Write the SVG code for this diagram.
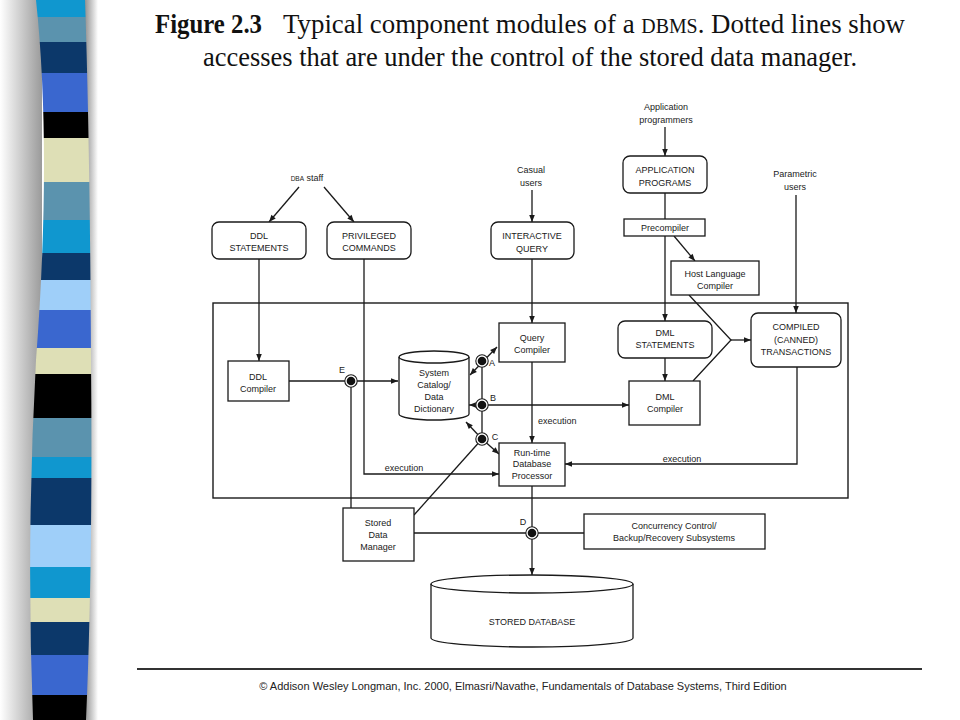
<svg xmlns="http://www.w3.org/2000/svg" xmlns:xlink="http://www.w3.org/1999/xlink" width="960" height="720" viewBox="0 0 960 720">
<defs>
<style>
.bx{fill:#fff;stroke:#1a1a1a;stroke-width:1.3}
.ln{fill:none;stroke:#1a1a1a;stroke-width:1.3}
.ar{marker-end:url(#ah)}
.da{marker-start:url(#ah);marker-end:url(#ah)}
.t{font-family:"Liberation Sans",Arial,sans-serif;font-size:9px;fill:#1a1a1a;text-anchor:middle}
.ts{font-family:"Liberation Sans",Arial,sans-serif;font-size:9px;fill:#1a1a1a}
.ttl{font-family:"Liberation Serif","Times New Roman",serif;font-size:27px;fill:#111}
</style>
<marker id="ah" viewBox="0 0 10 10" refX="10" refY="5" markerWidth="9" markerHeight="7" markerUnits="userSpaceOnUse" orient="auto-start-reverse">
<path d="M0,1 L10,5 L0,9 Z" fill="#1a1a1a"/>
</marker>
<g id="dot"><circle r="6.2" fill="#fff" stroke="#1a1a1a" stroke-width="1.1"/><circle r="4.3" fill="#111"/></g>
<linearGradient id="lg" x1="0" y1="0" x2="1" y2="0"><stop offset="0" stop-color="#fff"/><stop offset="1" stop-color="#9a9a9a"/></linearGradient>
<linearGradient id="rg" x1="0" y1="0" x2="1" y2="0"><stop offset="0" stop-color="#8a8a8a"/><stop offset="1" stop-color="#fff"/></linearGradient>
<clipPath id="bar"><path d="M36,0 Q52,150 36,360 Q26,540 33,720 L86,720 Q93,560 91,360 Q90,150 85,0 Z"/></clipPath>
</defs>
<rect width="960" height="720" fill="#fff"/>
<g id="side-bar">
<rect x="0" y="0" width="42" height="720" fill="url(#lg)"/>
<rect x="84" y="0" width="14" height="720" fill="url(#rg)"/>
<g clip-path="url(#bar)">
<rect x="20" y="0" width="80" height="17" fill="#1097cf"/>
<rect x="20" y="17" width="80" height="25" fill="#5b93ae"/>
<rect x="20" y="42" width="80" height="31" fill="#0c386a"/>
<rect x="20" y="73" width="80" height="39" fill="#3a67cf"/>
<rect x="20" y="112" width="80" height="26" fill="#000"/>
<rect x="20" y="138" width="80" height="44" fill="#dedfb6"/>
<rect x="20" y="182" width="80" height="38" fill="#5b93ae"/>
<rect x="20" y="220" width="80" height="33" fill="#1097cf"/>
<rect x="20" y="253" width="80" height="27" fill="#0c386a"/>
<rect x="20" y="280" width="80" height="30" fill="#9fcff9"/>
<rect x="20" y="310" width="80" height="38" fill="#3a67cf"/>
<rect x="20" y="348" width="80" height="26" fill="#dedfb6"/>
<rect x="20" y="374" width="80" height="44" fill="#000"/>
<rect x="20" y="418" width="80" height="39" fill="#5b93ae"/>
<rect x="20" y="457" width="80" height="21" fill="#1097cf"/>
<rect x="20" y="478" width="80" height="47" fill="#0c386a"/>
<rect x="20" y="525" width="80" height="42" fill="#9fcff9"/>
<rect x="20" y="567" width="80" height="31" fill="#1097cf"/>
<rect x="20" y="598" width="80" height="24" fill="#dedfb6"/>
<rect x="20" y="622" width="80" height="33" fill="#0c386a"/>
<rect x="20" y="655" width="80" height="40" fill="#3a67cf"/>
<rect x="20" y="695" width="80" height="25" fill="#000"/>
</g>
</g>
<g id="title">
<text class="ttl" x="155" y="33" font-weight="bold" textLength="107" lengthAdjust="spacingAndGlyphs">Figure 2.3</text>
<text class="ttl" x="283" y="33" textLength="622" lengthAdjust="spacingAndGlyphs">Typical component modules of a <tspan font-size="20">DBMS</tspan>. Dotted lines show</text>
<text class="ttl" x="203" y="66" textLength="654" lengthAdjust="spacingAndGlyphs">accesses that are under the control of the stored data manager.</text>
</g>
<g id="system-boundary"><rect x="213" y="303" width="635" height="195" fill="none" stroke="#1a1a1a" stroke-width="1.4"/></g>
<g id="connectors">
<path class="ln ar" d="M299,187 L269,222"/>
<path class="ln ar" d="M324,187 L354,222"/>
<path class="ln ar" d="M259,259 V361"/>
<path class="ln ar" d="M364,259 V474 H499"/>
<path class="ln ar" d="M289,381 H398"/>
<path class="ln" d="M351,381 V508"/>
<path class="ln ar" d="M532,190 V222"/>
<path class="ln ar" d="M532,259 V323"/>
<path class="ln ar" d="M532,362 V443"/>
<path class="ln ar" d="M665,127 V156"/>
<path class="ln" d="M665,193 V219"/>
<path class="ln ar" d="M665,236 V321"/>
<path class="ln ar" d="M674,236 L695,261"/>
<path class="ln" d="M689,295 L731,340 L693,381"/>
<path class="ln ar" d="M731,340 H751"/>
<path class="ln ar" d="M665,358 V381"/>
<path class="ln ar" d="M796,195 V313"/>
<path class="ln ar" d="M797,367 V464 H565"/>
<path class="ln" d="M482,361 V439"/>
<path class="ln da" d="M470,375 L497,347"/>
<path class="ln ar" d="M482,405 H469"/>
<path class="ln ar" d="M482,405 H629"/>
<path class="ln ar" d="M482,439 L466,422"/>
<path class="ln ar" d="M482,439 L499,454"/>
<path class="ln" d="M414,515 L482,439"/>
<path class="ln ar" d="M532,486 V575"/>
<path class="ln" d="M414,533 H584"/>
<use xlink:href="#dot" href="#dot" x="351" y="381"/>
<use xlink:href="#dot" href="#dot" x="482" y="361"/>
<use xlink:href="#dot" href="#dot" x="482" y="405"/>
<use xlink:href="#dot" href="#dot" x="482" y="439"/>
<use xlink:href="#dot" href="#dot" x="532" y="533"/>
<text class="t" x="342" y="373">E</text>
<text class="t" x="492" y="366">A</text>
<text class="t" x="493" y="401">B</text>
<text class="t" x="495" y="440">C</text>
<text class="t" x="523" y="525">D</text>
<text class="t" x="404" y="471">execution</text>
<text class="ts" x="538" y="424">execution</text>
<text class="t" x="682" y="462">execution</text>
</g>
<g id="dba-staff"><text class="t" x="307" y="181"><tspan font-size="6.5">DBA</tspan> staff</text></g>
<g id="casual-users"><text class="t" x="531" y="173">Casual</text><text class="t" x="531" y="186">users</text></g>
<g id="application-programmers"><text class="t" x="666" y="110">Application</text><text class="t" x="666" y="123">programmers</text></g>
<g id="parametric-users"><text class="t" x="795" y="177">Parametric</text><text class="t" x="795" y="190">users</text></g>
<g id="ddl-statements"><rect class="bx" x="212" y="222" width="94" height="37" rx="7"/><text class="t" x="259" y="239">DDL</text><text class="t" x="259" y="251">STATEMENTS</text></g>
<g id="privileged-commands"><rect class="bx" x="327" y="222" width="84" height="37" rx="7"/><text class="t" x="369" y="239">PRIVILEGED</text><text class="t" x="369" y="251">COMMANDS</text></g>
<g id="interactive-query"><rect class="bx" x="491" y="222" width="83" height="37" rx="7"/><text class="t" x="532" y="239">INTERACTIVE</text><text class="t" x="532" y="252">QUERY</text></g>
<g id="application-programs"><rect class="bx" x="623" y="156" width="84" height="37" rx="7"/><text class="t" x="665" y="173">APPLICATION</text><text class="t" x="665" y="186">PROGRAMS</text></g>
<g id="precompiler"><rect class="bx" x="624" y="219" width="81" height="17"/><text class="t" x="665" y="231">Precompiler</text></g>
<g id="host-language-compiler"><rect class="bx" x="671" y="261" width="88" height="34"/><text class="t" x="715" y="277">Host Language</text><text class="t" x="715" y="289">Compiler</text></g>
<g id="ddl-compiler"><rect class="bx" x="228" y="361" width="61" height="40"/><text class="t" x="258" y="380">DDL</text><text class="t" x="258" y="392">Compiler</text></g>
<g id="system-catalog">
<path class="bx" d="M399,357 A35,6 0 0 1 469,357 V414 A35,6 0 0 1 399,414 Z"/>
<path class="ln" d="M399,357 A35,6 0 0 0 469,357"/>
<text class="t" x="434" y="376">System</text><text class="t" x="434" y="388">Catalog/</text><text class="t" x="434" y="400">Data</text><text class="t" x="434" y="412">Dictionary</text>
</g>
<g id="query-compiler"><rect class="bx" x="499" y="323" width="66" height="39"/><text class="t" x="532" y="341">Query</text><text class="t" x="532" y="353">Compiler</text></g>
<g id="dml-statements"><rect class="bx" x="618" y="321" width="94" height="37" rx="7"/><text class="t" x="665" y="336">DML</text><text class="t" x="665" y="348">STATEMENTS</text></g>
<g id="dml-compiler"><rect class="bx" x="629" y="381" width="71" height="44"/><text class="t" x="665" y="400">DML</text><text class="t" x="665" y="412">Compiler</text></g>
<g id="compiled-transactions"><rect class="bx" x="751" y="313" width="90" height="54" rx="7"/><text class="t" x="796" y="330">COMPILED</text><text class="t" x="796" y="343">(CANNED)</text><text class="t" x="796" y="355">TRANSACTIONS</text></g>
<g id="runtime-processor"><rect class="bx" x="499" y="443" width="66" height="43"/><text class="t" x="532" y="456">Run-time</text><text class="t" x="532" y="467">Database</text><text class="t" x="532" y="479">Processor</text></g>
<g id="stored-data-manager"><rect class="bx" x="343" y="508" width="71" height="53"/><text class="t" x="378" y="526">Stored</text><text class="t" x="378" y="538">Data</text><text class="t" x="378" y="550">Manager</text></g>
<g id="concurrency-control"><rect class="bx" x="584" y="514" width="181" height="35"/><text class="t" x="674" y="529">Concurrency Control/</text><text class="t" x="674" y="541">Backup/Recovery Subsystems</text></g>
<g id="stored-database">
<path class="bx" d="M431,584 A101,9 0 0 1 633,584 V638 A101,9 0 0 1 431,638 Z"/>
<path class="ln" d="M431,584 A101,9 0 0 0 633,584"/>
<text class="t" x="532" y="625" font-size="9.5">STORED DATABASE</text>
</g>
<g id="footer">
<line x1="137" y1="669" x2="922" y2="669" stroke="#333" stroke-width="2"/>
<text x="523" y="690" font-family="'Liberation Sans',Arial,sans-serif" font-size="11" fill="#222" text-anchor="middle">© Addison Wesley Longman, Inc. 2000, Elmasri/Navathe, Fundamentals of Database Systems, Third Edition</text>
</g>
</svg>
